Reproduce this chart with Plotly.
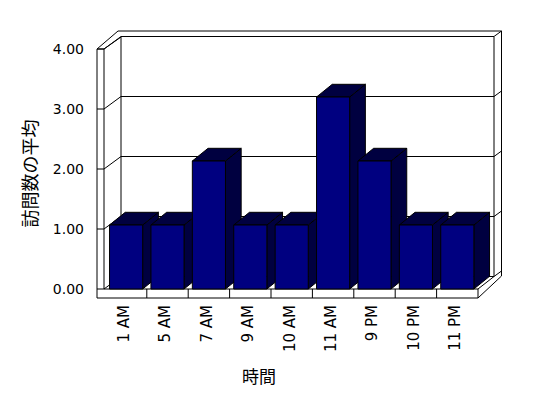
import plotly.graph_objects as go

# ---- data ----
categories = ["1 AM", "5 AM", "7 AM", "9 AM", "10 AM", "11 AM", "9 PM", "10 PM", "11 PM"]
visits = [1, 1, 2, 1, 1, 3, 2, 1, 1]
tick_values = [0, 1, 2, 3, 4]
tick_labels = ["0.00", "1.00", "2.00", "3.00", "4.00"]
y_title = "訪問数の平均"
x_title = "時間"

# ---- layout geometry (pixels) ----
W, H = 548, 398
PL, PR, PT, PB = 90, 510, 20, 301      # plot area
SLOT, C0 = 41.4, 126.1                 # category slot width / first slot centre
BASE, BAR_PX, WALL_PX = 289.0, 64.0, 60.0
DEPTH_DX, DEPTH_DY = 15.7, 12.7        # bar depth offset (px)
FRONT, FLOOR_B = 289.0, 298.0

def X(px):
    return (px - C0) / SLOT

def Y(py):
    return (BASE - py) / BAR_PX

xr = [X(PL), X(PR)]
yr = [Y(PB), Y(PT)]

shapes = []

def line(p, q):
    shapes.append(dict(type="line", xref="x", yref="y", layer="below",
                       x0=X(p[0]), y0=Y(p[1]), x1=X(q[0]), y1=Y(q[1]),
                       line=dict(color="black", width=1)))

# left wall
line((97, 49), (97, FLOOR_B))
line((104, 49), (104, FRONT))
line((97, 49), (104, 49))
line((97, 49), (118, 31))
line((104, 49), (121, 37))
# back wall
line((118, 31), (501.5, 31))
line((121, 37), (121, 276.5))
line((494, 37), (494, 276.5))
line((501.5, 31), (501.5, 276))
# floor
line((97, FLOOR_B), (478, FLOOR_B))
line((104, FRONT), (478, FRONT))
line((478, FRONT), (478, FLOOR_B))
line((478, FRONT), (494, 276.5))
line((478, FLOOR_B), (501.5, 276))
for k in range(1, len(categories)):
    xp = C0 + (k - 0.5) * SLOT
    line((xp, FRONT), (xp, FLOOR_B))
# gridlines
for k in tick_values:
    fy = FRONT - WALL_PX * k
    by = 276.5 - WALL_PX * k
    line((97, fy), (104, fy))
    line((104, fy), (121, by))
    line((121, by), (494, by))
    line((494, by), (501.5, by - 5.5))

# bar depth faces (drawn below the front faces)
ddx = DEPTH_DX / SLOT
ddy = DEPTH_DY / BAR_PX
half = 0.4
for i, v in enumerate(visits):
    x0, x1 = i - half, i + half
    side = [(x1, v), (x1 + ddx, v + ddy), (x1 + ddx, ddy), (x1, 0)]
    top = [(x0, v), (x0 + ddx, v + ddy), (x1 + ddx, v + ddy), (x1, v)]
    for pts in (side, top):
        d = "M " + " L ".join(f"{a},{b}" for a, b in pts) + " Z"
        shapes.append(dict(type="path", xref="x", yref="y", layer="below", path=d,
                           fillcolor="#000040", line=dict(color="black", width=1)))

fig = go.Figure()
fig.add_trace(go.Bar(
    x=list(range(len(categories))), y=visits, width=2 * half,
    marker=dict(color="#000080", line=dict(color="black", width=1)),
    hoverinfo="skip", showlegend=False,
))

xtick_font = dict(family="DejaVu Sans, sans-serif", size=15, color="black")
ytick_font = dict(family="DejaVu Sans, sans-serif", size=14, color="black")
ytitle_font = dict(family="Noto Sans CJK JP, sans-serif", size=18, color="black")
xtitle_font = dict(family="Noto Sans CJK JP, sans-serif", size=17, color="black")

fig.update_layout(
    width=W, height=H,
    margin=dict(l=PL, r=W - PR, t=PT, b=H - PB, pad=0),
    paper_bgcolor="white", plot_bgcolor="rgba(0,0,0,0)",
    shapes=shapes,
    xaxis=dict(range=xr, tickvals=list(range(len(categories))), ticktext=categories,
               tickangle=-90, showgrid=False, zeroline=False, showline=False,
               ticks="", tickfont=xtick_font, ticklabelstandoff=0,
               ticklabelshift=-2, fixedrange=True),
    yaxis=dict(range=yr, tickvals=[k * WALL_PX / BAR_PX for k in tick_values],
               ticktext=tick_labels, showgrid=False, zeroline=False, showline=False,
               ticks="", tickfont=ytick_font, ticklabelstandoff=5, fixedrange=True),
    annotations=[
        dict(text=y_title, xref="paper", yref="paper", textangle=-90,
             x=(28.5 - PL) / (PR - PL), y=(PB - 174) / (PB - PT),
             showarrow=False, font=ytitle_font, xanchor="center", yanchor="middle"),
        dict(text=x_title, xref="paper", yref="paper",
             x=(259 - PL) / (PR - PL), y=(PB - 375.5) / (PB - PT),
             showarrow=False, font=xtitle_font, xanchor="center", yanchor="middle"),
    ],
)

fig.write_html("out.html")
